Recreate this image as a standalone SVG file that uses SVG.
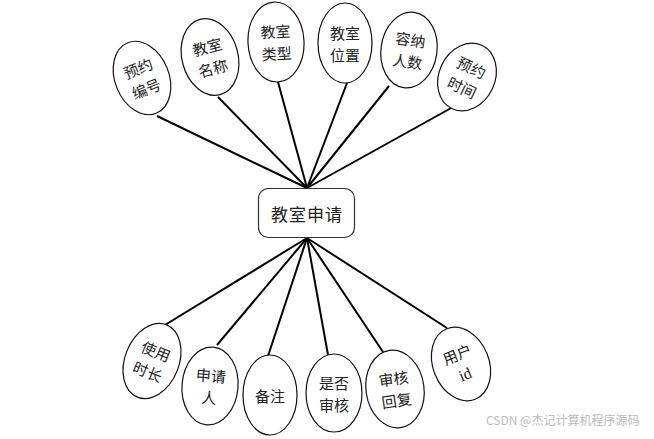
<svg xmlns="http://www.w3.org/2000/svg" width="654" height="439" viewBox="0 0 654 439">
<style>
.e{fill:#fff;stroke:#111;stroke-width:1.2}
.t{font-family:"Noto Sans CJK SC","Liberation Serif",sans-serif;font-size:15px;fill:#222;text-anchor:middle;dominant-baseline:central}
.c line{stroke:#000;stroke-width:2}
</style>
<rect width="654" height="439" fill="#fff"/>
<g class="c" id="connectors">
<line x1="307" y1="188" x2="157" y2="116"/>
<line x1="307" y1="188" x2="218" y2="97"/>
<line x1="307" y1="188" x2="278" y2="82"/>
<line x1="307" y1="188" x2="347" y2="83"/>
<line x1="307" y1="188" x2="389" y2="86"/>
<line x1="307" y1="188" x2="453" y2="107"/>
<line x1="307" y1="238" x2="165" y2="325"/>
<line x1="307" y1="238" x2="217" y2="345"/>
<line x1="307" y1="238" x2="268" y2="356"/>
<line x1="307" y1="238" x2="328" y2="355"/>
<line x1="307" y1="238" x2="383" y2="352"/>
<line x1="307" y1="238" x2="447" y2="328"/>
</g>
<g id="center">
<rect x="258.5" y="188.5" width="96" height="49" rx="10" fill="#fff" stroke="#333" stroke-width="1.2"/>
<text x="307" y="213" class="t" style="font-size:17px;letter-spacing:1px">教室申请</text>
</g>
<g id="n1" transform="translate(142,78) rotate(-22)"><ellipse class="e" rx="27" ry="38"/><text class="t" y="-11">预约</text><text class="t" y="11">编号</text></g>
<g id="n2" transform="translate(210,57) rotate(-15)"><ellipse class="e" rx="28" ry="39"/><text class="t" y="-11">教室</text><text class="t" y="11">名称</text></g>
<g id="n3" transform="translate(276,42) rotate(-3)"><ellipse class="e" rx="28" ry="40"/><text class="t" y="-11">教室</text><text class="t" y="11">类型</text></g>
<g id="n4" transform="translate(345,43)"><ellipse class="e" rx="27" ry="40"/><text class="t" y="-11">教室</text><text class="t" y="11">位置</text></g>
<g id="n5" transform="translate(409,50) rotate(8)"><ellipse class="e" rx="28" ry="38"/><text class="t" y="-11">容纳</text><text class="t" y="11">人数</text></g>
<g id="n6" transform="translate(467,77) rotate(25)"><ellipse class="e" rx="28" ry="35"/><text class="t" y="-11">预约</text><text class="t" y="11">时间</text></g>
<g id="n7" transform="translate(152,361) rotate(22)"><ellipse class="e" rx="27" ry="39"/><text class="t" y="-11">使用</text><text class="t" y="11">时长</text></g>
<g id="n8" transform="translate(210,386) rotate(5)"><ellipse class="e" rx="28" ry="39"/><text class="t" y="-11">申请</text><text class="t" y="11">人</text></g>
<g id="n9" transform="translate(270,395)"><ellipse class="e" rx="27" ry="40"/><text class="t" y="0">备注</text></g>
<g id="n10" transform="translate(334,393)"><ellipse class="e" rx="28" ry="39"/><text class="t" y="-11">是否</text><text class="t" y="11">审核</text></g>
<g id="n11" transform="translate(395,389) rotate(-8)"><ellipse class="e" rx="29" ry="39"/><text class="t" y="-11">审核</text><text class="t" y="11">回复</text></g>
<g id="n12" transform="translate(461,364) rotate(-22)"><ellipse class="e" rx="28" ry="38"/><text class="t" y="-11">用户</text><text class="t" y="11" style="font-family:'Liberation Serif',serif;font-size:16px">id</text></g>
<text x="486" y="425" style="font-family:'Noto Sans CJK SC',sans-serif;font-size:12px;fill:#bbb">CSDN @杰记计算机程序源码</text>
</svg>
